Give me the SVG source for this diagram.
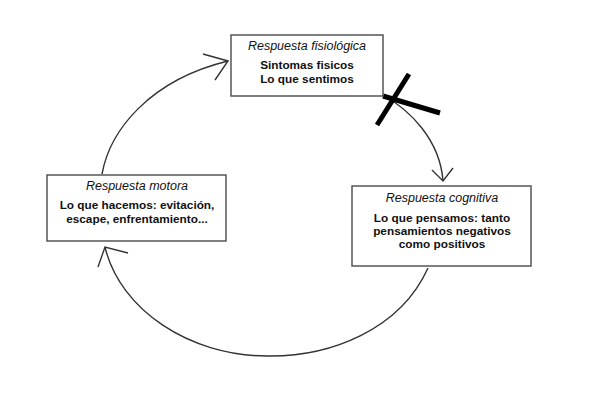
<svg xmlns="http://www.w3.org/2000/svg" width="600" height="405" viewBox="0 0 600 405">
<style>
.box{fill:#fff;stroke:#555;stroke-width:1.5}
.t{font-family:"Liberation Sans",Arial,sans-serif;font-size:12.5px;font-style:italic;fill:#111;text-anchor:middle}
.b{font-family:"Liberation Sans",Arial,sans-serif;font-size:11.8px;font-weight:bold;fill:#111;text-anchor:middle}
.c{fill:none;stroke:#333;stroke-width:1.4}
.x{stroke:#000;stroke-width:5;stroke-linecap:butt}
</style>
<rect width="600" height="405" fill="#fff"/>
<g id="connectors">
<path class="c" d="M102,174 C110,130 150,80 228,61"/>
<path class="c" d="M203,54 L228,61 L215,80"/>
<path class="c" d="M383,95 C410,110 440,140 443,181"/>
<path class="c" d="M432,170 L443,181 L453,168"/>
<path class="c" d="M428,268 C400,330 330,357 267,356 C190,356 120,310 105,247"/>
<path class="c" d="M98,267 L105,247 L128,253"/>
</g>
<g id="cross">
<line class="x" x1="409" y1="74" x2="377" y2="125"/>
<line class="x" x1="383" y1="96" x2="440" y2="113"/>
</g>
<g id="fisiologica">
<rect class="box" x="231" y="35" width="152" height="61"/>
<text class="t" x="307" y="50">Respuesta fisiológica</text>
<text class="b" x="307" y="69">Sintomas fisicos</text>
<text class="b" x="307" y="83">Lo que sentimos</text>
</g>
<g id="cognitiva">
<rect class="box" x="352" y="186" width="179" height="80"/>
<text class="t" x="442" y="202">Respuesta cognitiva</text>
<text class="b" x="442" y="222">Lo que pensamos: tanto</text>
<text class="b" x="442" y="235">pensamientos negativos</text>
<text class="b" x="442" y="248">como positivos</text>
</g>
<g id="motora">
<rect class="box" x="47" y="175" width="179" height="66"/>
<text class="t" x="137" y="190">Respuesta motora</text>
<text class="b" x="137" y="209">Lo que hacemos:  evitación,</text>
<text class="b" x="137" y="223">escape, enfrentamiento...</text>
</g>
</svg>
